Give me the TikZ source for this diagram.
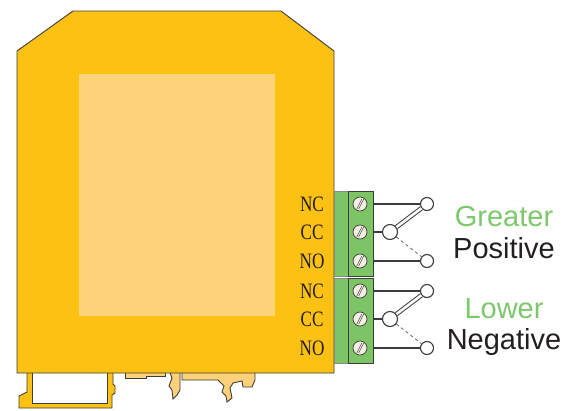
\documentclass[tikz,border=0pt]{standalone}
\usepackage{fontspec}
\setmainfont{Liberation Sans}
\newfontfamily\termfont{Liberation Serif}
\usetikzlibrary{positioning}

\definecolor{housing}{HTML}{FDC114}
\definecolor{window}{HTML}{FDD47C}
\definecolor{clip}{HTML}{FDD07A}
\definecolor{block}{HTML}{7DC466}
\definecolor{darkline}{HTML}{3C3C3C}
\definecolor{screwfill}{HTML}{F4EFE2}
\definecolor{labelgreen}{HTML}{7CC86A}
\definecolor{ink}{HTML}{231F20}

\newcommand{\termtext}[1]{\scalebox{0.78}[1]{#1}}

\tikzset{
  outl/.style={draw=darkline,line width=0.9pt},
  screw/.style={circle,draw=darkline,fill=screwfill,line width=0.7pt,minimum size=14pt,inner sep=0pt,
    path picture={
      \draw[darkline,line width=0.5pt] ([shift={(-3.2pt,-5pt)}]path picture bounding box.center) -- ++(5pt,10pt);
      \draw[darkline,line width=0.5pt] ([shift={(-1.3pt,-5pt)}]path picture bounding box.center) -- ++(5pt,10pt);}},
  contact/.style={circle,draw=darkline,fill=white,line width=1.1pt,minimum size=13pt,inner sep=0pt},
  term/.style={text=ink,font=\termfont\fontsize{22}{22}\selectfont,anchor=base},
  state/.style={font=\fontsize{29}{29}\selectfont,anchor=base}
}

\begin{document}
\begin{tikzpicture}[x=1pt,y=-1pt]
\useasboundingbox (0,0) rectangle (578,410);

% rail clip
\filldraw[fill=housing,outl] (27,370) -- (27,392) -- (19,396) -- (19,408) -- (112,408) -- (112,395)
  -- (115,393) -- (115,386) -- (113,384) -- (113,370) -- cycle;
\filldraw[fill=white,outl] (32,370) rectangle (107,403);
\filldraw[fill=clip,outl] (125,370) -- (125,378) -- (146,378) -- (146,376) -- (165,376) -- (165,370) -- cycle;
\filldraw[fill=clip,outl] (169,370) -- (172,378) -- (169,386) -- (172,390) -- (173,399) -- (177,395)
  -- (180,390) -- (180,370) -- cycle;
\filldraw[fill=clip,outl] (182,370) -- (182,380) -- (218,380) -- (224,386) -- (222,392) -- (226,396)
  -- (227,402) -- (232,398) -- (230,388) -- (233,383) -- (242,381) -- (243,387) -- (252,387)
  -- (255,380) -- (255,370) -- cycle;

% housing
\filldraw[fill=housing,outl] (17,51) -- (73,11) -- (281,11) -- (334,51) -- (334,373) -- (17,373) -- cycle;
\fill[window] (79,74) rectangle (275,316);

% terminal blocks
\foreach \b/\t in {1/191,2/278} {
  \filldraw[fill=block,draw=darkline!60,line width=0.6pt] (334,\t) rectangle (348,\t+85);
  \filldraw[fill=block,outl] (348,\t) rectangle (373,\t+85);
  \node[screw] (s\b nc) at (360,\t+13) {};
  \node[screw] (s\b cc) at (360,\t+41) {};
  \node[screw] (s\b no) at (360,\t+70) {};
  \node[term] (l\b nc) at (312,\t+20) {\termtext{NC}};
  \node[term] (l\b cc) at (312,\t+48) {\termtext{CC}};
  \node[term] (l\b no) at (312,\t+77) {\termtext{NO}};
  \coordinate (e\b nc) at (373,\t+13);
  \coordinate (e\b cc) at (373,\t+41);
  \coordinate (e\b no) at (373,\t+70);
  \node[contact] (nc\b) at (427,\t+13) {};
  \node[contact,minimum size=15pt] (cc\b) at (390,\t+41) {};
  \node[contact] (no\b) at (427,\t+70) {};
  \draw[darkline,line width=1.1pt] (e\b nc) -- (nc\b) (e\b cc) -- (cc\b) (e\b no) -- (no\b);
  \draw[darkline,line width=1pt,double=white,double distance=2.6pt] (cc\b) -- (nc\b);
  \draw[darkline!80,line width=0.8pt,dash pattern=on 3pt off 3pt] (cc\b) -- (no\b);
}

% state labels
\node[state,text=labelgreen] (greater) at (504,226) {Greater};
\node[state,text=ink] (positive) at (504,258) {Positive};
\node[state,text=labelgreen] (lower) at (504,318) {Lower};
\node[state,text=ink] (negative) at (504,349) {Negative};
\end{tikzpicture}
\end{document}
